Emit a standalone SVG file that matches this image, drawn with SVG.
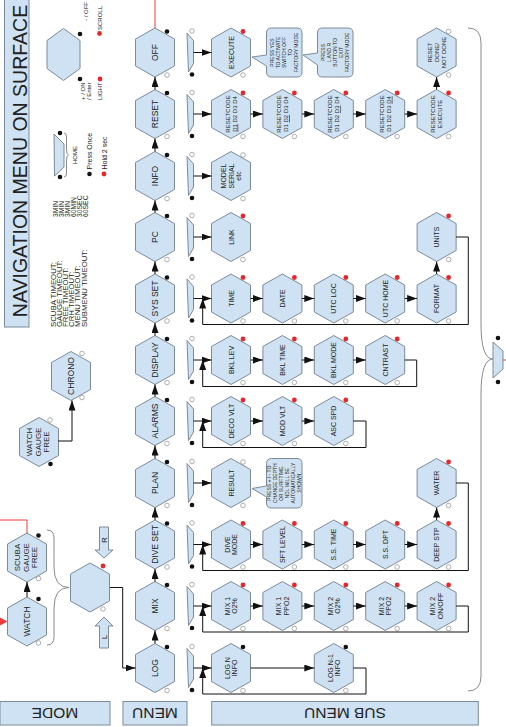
<svg xmlns="http://www.w3.org/2000/svg" xmlns:xlink="http://www.w3.org/1999/xlink" width="506" height="727" viewBox="0 0 506 727">
<style>
.hx{fill:#cfe2f3;stroke:#7d8b99;stroke-width:1}
.bx{fill:#cfe2f3;stroke:#7d8b99;stroke-width:1}
.t{font-family:"Liberation Sans",Arial,sans-serif;fill:#222}
.m{font-size:8.5px}
.s{font-size:7px}
.r{font-size:6px}
.c{font-size:5px}
.k{font-size:6px}
.dk{fill:#111}
.rd{fill:#e8262b}
.ho{fill:#fff;stroke:#9a9a9a;stroke-width:0.8}
.cn{fill:none;stroke:#111;stroke-width:1}
.red{fill:none;stroke:#ee3b3b;stroke-width:1}
.br{fill:none;stroke:#8a8a8a;stroke-width:1}
</style>
<defs>
<polygon id="hex" points="0,-24.5 19.5,-13.5 19.5,13.5 0,24.5 -19.5,13.5 -19.5,-13.5"/>
<polygon id="trap" points="0,-19.5 6.5,-12 6.5,11 1.5,19.5"/>
<marker id="ah" viewBox="0 0 10 7" refX="10" refY="3.5" markerWidth="10" markerHeight="7" markerUnits="userSpaceOnUse" orient="auto"><path d="M0,0L10,3.5L0,7z" fill="#111"/></marker>
</defs>
<rect width="506" height="727" fill="#fff"/>

<!-- title & legend -->
<g id="title">
<rect class="bx" x="4.5" y="-2" width="24.5" height="329"/>
<text class="t" font-size="19.5" text-anchor="middle" transform="translate(27,161) rotate(-90)">NAVIGATION MENU ON SURFACE</text>
</g>
<g id="timeouts" class="t" font-size="7.8">
<text transform="translate(56,327) rotate(-90)">SCUBA TIMEOUT:</text>
<text transform="translate(62,327) rotate(-90)">GAUGE TIMEOUT:</text>
<text transform="translate(68,327) rotate(-90)">FREE TIMEOUT:</text>
<text transform="translate(74,327) rotate(-90)">CRH TIMEOUT:</text>
<text transform="translate(80,327) rotate(-90)">MENU TIMEOUT:</text>
<text transform="translate(86.5,327) rotate(-90)">SUBMENU TIMEOUT:</text>
<g font-size="6.8">
<text transform="translate(57.5,217) rotate(-90)">3MIN</text>
<text transform="translate(63.5,217) rotate(-90)">3MIN</text>
<text transform="translate(69.5,217) rotate(-90)">3MIN</text>
<text transform="translate(75.5,217) rotate(-90)">60MIN</text>
<text transform="translate(81.5,217) rotate(-90)">30SEC</text>
<text transform="translate(88,217) rotate(-90)">60SEC</text>
</g>
</g>
<g id="key-buttons">
<polygon class="hx" points="63.5,28.5 80,40.5 80,68.5 63.5,80.5 47,68.5 47,40.5"/>
<circle class="dk" cx="80" cy="34" r="2.3"/>
<circle class="dk" cx="80" cy="79" r="2.3"/>
<circle class="rd" cx="99.5" cy="33.5" r="2.4"/>
<circle class="rd" cx="100" cy="79" r="2.4"/>
<text class="t k" transform="translate(87.5,21) rotate(-90)">- / OFF</text>
<text class="t k" transform="translate(85,100) rotate(-90)">+ / ON</text>
<text class="t k" transform="translate(91,100) rotate(-90)">/ Enter</text>
<text class="t k" transform="translate(102,30) rotate(-90)">SCROLL</text>
<text class="t k" transform="translate(102,100) rotate(-90)">LIGHT</text>
</g>
<g id="key-home">
<polygon class="hx" points="54,134 64,144 64,167 54.5,176"/>
<path class="br" d="M64,133 Q66.5,133 66.5,137 L66.5,149 Q66.5,155 68.5,155 Q66.5,155 66.5,161 L66.5,173 Q66.5,177 64,177"/>
<circle class="dk" cx="60" cy="133" r="2.3"/>
<circle class="dk" cx="60" cy="177" r="2.3"/>
<text class="t k" text-anchor="middle" transform="translate(77,155) rotate(-90)">HOME</text>
<circle class="dk" cx="89.5" cy="174" r="2.3"/>
<circle class="rd" cx="104" cy="174" r="2.4"/>
<text class="t" font-size="7" transform="translate(92,169.5) rotate(-90)">Press Once</text>
<text class="t" font-size="7" transform="translate(106.5,169.5) rotate(-90)">Hold 2 sec</text>
</g>

<!-- mode area -->
<g id="watch-gauge-free">
<use href="#hex" class="hx" x="39" y="442"/>
<text class="t" font-size="8" text-anchor="middle" transform="translate(39,442) rotate(-90)"><tspan x="0" y="-7.4">WATCH</tspan><tspan x="0" y="1.5">GAUGE</tspan><tspan x="0" y="10.4">FREE</tspan></text>
<circle class="ho" cx="50" cy="420" r="2.3"/>
<circle class="dk" cx="50.5" cy="464" r="2.3"/>
</g>
<g id="chrono">
<use href="#hex" class="hx" x="71" y="376"/>
<text class="t m" text-anchor="middle" transform="translate(71,376) rotate(-90)" y="3">CHRONO</text>
<circle class="ho" cx="82" cy="353.5" r="2.3"/>
<circle class="ho" cx="82" cy="397.5" r="2.3"/>
</g>
<g id="scuba">
<use href="#hex" class="hx" x="27" y="557.5"/>
<text class="t" font-size="8" text-anchor="middle" transform="translate(27,557.5) rotate(-90)"><tspan x="0" y="-7.4">SCUBA</tspan><tspan x="0" y="1.5">GAUGE</tspan><tspan x="0" y="10.4">FREE</tspan></text>
<circle class="dk" cx="38.5" cy="535.5" r="2.3"/>
<circle class="ho" cx="38.5" cy="578.5" r="2.3"/>
</g>
<g id="watch">
<use href="#hex" class="hx" x="27" y="621.5"/>
<text class="t m" text-anchor="middle" transform="translate(27,621.5) rotate(-90)" y="3">WATCH</text>
<circle class="dk" cx="38.5" cy="599" r="2.3"/>
<circle class="ho" cx="38.5" cy="643" r="2.3"/>
</g>
<g id="mode-select">
<path class="br" d="M47,530 Q54,530 54,538 L54,567 Q54,587.5 69,587.5 Q54,587.5 54,608 L54,637 Q54,645 47,645"/>
<use href="#hex" class="hx" x="90" y="587.5"/>
<circle class="rd" cx="103" cy="566" r="2.4"/>
<circle class="ho" cx="103" cy="609" r="2.3"/>
</g>
<g id="btn-r">
<polygon class="hx" points="99.5,527 108.5,527 108.5,550 113,550 104,558 95,550 99.5,550"/>
<text class="t" font-size="8" text-anchor="middle" transform="translate(104,540) rotate(-90)" y="3">R</text>
</g>
<g id="btn-l">
<polygon class="hx" points="104,617 113,626 108.5,626 108.5,648 99.5,648 99.5,626 95,626"/>
<text class="t" font-size="8" text-anchor="middle" transform="translate(104,637) rotate(-90)" y="3">L</text>
</g>

<!-- main menu -->
<g id="off"><use href="#hex" class="hx" x="155" y="52.5"/><text class="t m" text-anchor="middle" transform="translate(155,52.5) rotate(-90)" y="3">OFF</text><circle class="dk" cx="167" cy="31.5" r="2.3"/><circle class="ho" cx="167" cy="75" r="2.3"/></g>
<g id="reset"><use href="#hex" class="hx" x="155" y="114"/><text class="t m" text-anchor="middle" transform="translate(155,114) rotate(-90)" y="3">RESET</text><circle class="dk" cx="167" cy="93" r="2.3"/><circle class="ho" cx="167" cy="136.5" r="2.3"/></g>
<g id="info"><use href="#hex" class="hx" x="155" y="176"/><text class="t m" text-anchor="middle" transform="translate(155,176) rotate(-90)" y="3">INFO</text><circle class="dk" cx="167" cy="155" r="2.3"/><circle class="ho" cx="167" cy="198.5" r="2.3"/></g>
<g id="pc"><use href="#hex" class="hx" x="155" y="237"/><text class="t m" text-anchor="middle" transform="translate(155,237) rotate(-90)" y="3">PC</text><circle class="dk" cx="167" cy="216" r="2.3"/><circle class="ho" cx="167" cy="259.5" r="2.3"/></g>
<g id="sysset"><use href="#hex" class="hx" x="155" y="298.5"/><text class="t m" text-anchor="middle" transform="translate(155,298.5) rotate(-90)" y="3">SYS SET</text><circle class="dk" cx="167" cy="277.5" r="2.3"/><circle class="ho" cx="167" cy="321" r="2.3"/></g>
<g id="display"><use href="#hex" class="hx" x="155" y="360"/><text class="t m" text-anchor="middle" transform="translate(155,360) rotate(-90)" y="3">DISPLAY</text><circle class="dk" cx="167" cy="339" r="2.3"/><circle class="ho" cx="167" cy="382.5" r="2.3"/></g>
<g id="alarms"><use href="#hex" class="hx" x="155" y="421"/><text class="t m" text-anchor="middle" transform="translate(155,421) rotate(-90)" y="3">ALARMS</text><circle class="dk" cx="167" cy="400" r="2.3"/><circle class="ho" cx="167" cy="443.5" r="2.3"/></g>
<g id="plan"><use href="#hex" class="hx" x="155" y="483"/><text class="t m" text-anchor="middle" transform="translate(155,483) rotate(-90)" y="3">PLAN</text><circle class="dk" cx="167" cy="462" r="2.3"/><circle class="ho" cx="167" cy="505.5" r="2.3"/></g>
<g id="diveset"><use href="#hex" class="hx" x="155" y="544.5"/><text class="t m" text-anchor="middle" transform="translate(155,544.5) rotate(-90)" y="3">DIVE SET</text><circle class="dk" cx="167" cy="523.5" r="2.3"/><circle class="ho" cx="167" cy="567" r="2.3"/></g>
<g id="mix"><use href="#hex" class="hx" x="155" y="606"/><text class="t m" text-anchor="middle" transform="translate(155,606) rotate(-90)" y="3">MIX</text><circle class="dk" cx="167" cy="585" r="2.3"/><circle class="ho" cx="167" cy="628.5" r="2.3"/></g>
<g id="log"><use href="#hex" class="hx" x="155" y="668"/><text class="t m" text-anchor="middle" transform="translate(155,668) rotate(-90)" y="3">LOG</text><circle class="dk" cx="167" cy="647" r="2.3"/><circle class="ho" cx="167" cy="690.5" r="2.3"/></g>

<!-- trapezoid entry points -->
<g id="entries">
<use href="#trap" class="hx" x="187" y="52.5"/><circle class="ho" cx="192" cy="31" r="2.3"/><circle class="dk" cx="192" cy="74.5" r="2.3"/>
<use href="#trap" class="hx" x="187" y="114"/><circle class="ho" cx="192" cy="92.5" r="2.3"/><circle class="dk" cx="192" cy="136" r="2.3"/>
<use href="#trap" class="hx" x="187" y="176"/><circle class="ho" cx="192" cy="154.5" r="2.3"/><circle class="dk" cx="192" cy="198" r="2.3"/>
<use href="#trap" class="hx" x="187" y="237"/><circle class="ho" cx="192" cy="215.5" r="2.3"/><circle class="dk" cx="192" cy="259" r="2.3"/>
<use href="#trap" class="hx" x="187" y="298.5"/><circle class="ho" cx="192" cy="277" r="2.3"/><circle class="dk" cx="192" cy="320.5" r="2.3"/>
<use href="#trap" class="hx" x="187" y="360"/><circle class="ho" cx="192" cy="338.5" r="2.3"/><circle class="dk" cx="192" cy="382" r="2.3"/>
<use href="#trap" class="hx" x="187" y="421"/><circle class="ho" cx="192" cy="399.5" r="2.3"/><circle class="dk" cx="192" cy="443" r="2.3"/>
<use href="#trap" class="hx" x="187" y="483"/><circle class="ho" cx="192" cy="461.5" r="2.3"/><circle class="dk" cx="192" cy="505" r="2.3"/>
<use href="#trap" class="hx" x="187" y="544.5"/><circle class="ho" cx="192" cy="523" r="2.3"/><circle class="dk" cx="192" cy="566.5" r="2.3"/>
<use href="#trap" class="hx" x="187" y="606"/><circle class="ho" cx="192" cy="584.5" r="2.3"/><circle class="dk" cx="192" cy="628" r="2.3"/>
<use href="#trap" class="hx" x="187" y="668"/><circle class="ho" cx="192" cy="646.5" r="2.3"/><circle class="dk" cx="192" cy="690" r="2.3"/>
</g>

<!-- OFF row -->
<g id="execute"><use href="#hex" class="hx" x="231" y="52.5"/><text class="t s" text-anchor="middle" transform="translate(231,52.5) rotate(-90)" y="2.5">EXECUTE</text><circle class="rd" cx="243" cy="31.5" r="2.4"/><circle class="ho" cx="243" cy="75" r="2.3"/></g>
<g id="note-switchoff"><path class="bx" d="M271.5,28 H297 Q302,28 302,33 V72 Q302,77 297,77 H271.5 Q266.5,77 266.5,72 V66 L252,57 L266.5,55 V33 Q266.5,28 271.5,28 Z"/>
<text class="t c" text-anchor="middle" transform="translate(284,52.5) rotate(-90)"><tspan x="0" y="-10.2">PRESS YES</tspan><tspan x="0" y="-4.2">TO ACTIVATE</tspan><tspan x="0" y="1.8">SWITCH OFF</tspan><tspan x="0" y="7.8">TO</tspan><tspan x="0" y="13.8">FACTORY MODE</tspan></text></g>
<g id="note-exit"><path class="bx" d="M322.5,28 H348 Q353,28 353,33 V72 Q353,77 348,77 H322.5 Q317.5,77 317.5,72 V65 L303,55 L317.5,53 V33 Q317.5,28 322.5,28 Z"/>
<text class="t c" text-anchor="middle" transform="translate(335,52.5) rotate(-90)"><tspan x="0" y="-10.2">PRESS</tspan><tspan x="0" y="-4.2">L AND R</tspan><tspan x="0" y="1.8">BUTTON TO</tspan><tspan x="0" y="7.8">EXIT</tspan><tspan x="0" y="13.8">FACTORY MODE</tspan></text></g>
<g id="reset-done"><use href="#hex" class="hx" x="436.6" y="52.5"/><text class="t r" text-anchor="middle" transform="translate(436.6,52.5) rotate(-90)"><tspan x="0" y="-4.8">RESET</tspan><tspan x="0" y="2.2">DONE/</tspan><tspan x="0" y="9.2">NOT DONE</tspan></text><circle class="ho" cx="448.6" cy="31.5" r="2.3"/><circle class="ho" cx="448.6" cy="75" r="2.3"/></g>

<!-- RESET row -->
<g id="rc1"><use href="#hex" class="hx" x="231" y="114"/><text class="t r" text-anchor="middle" transform="translate(231,114) rotate(-90)"><tspan x="0" y="-1.4">RESETCODE</tspan><tspan x="0" y="5.6"><tspan text-decoration="underline">D1</tspan> D2 D3 D4</tspan></text><circle class="rd" cx="243" cy="93" r="2.4"/><circle class="ho" cx="243" cy="136.5" r="2.3"/></g>
<g id="rc2"><use href="#hex" class="hx" x="282.4" y="114"/><text class="t r" text-anchor="middle" transform="translate(282.4,114) rotate(-90)"><tspan x="0" y="-1.4">RESETCODE</tspan><tspan x="0" y="5.6">D1 <tspan text-decoration="underline">D2</tspan> D3 D4</tspan></text><circle class="rd" cx="294.4" cy="93" r="2.4"/><circle class="ho" cx="294.4" cy="136.5" r="2.3"/></g>
<g id="rc3"><use href="#hex" class="hx" x="333.8" y="114"/><text class="t r" text-anchor="middle" transform="translate(333.8,114) rotate(-90)"><tspan x="0" y="-1.4">RESETCODE</tspan><tspan x="0" y="5.6">D1 D2 <tspan text-decoration="underline">D3</tspan> D4</tspan></text><circle class="rd" cx="345.8" cy="93" r="2.4"/><circle class="ho" cx="345.8" cy="136.5" r="2.3"/></g>
<g id="rc4"><use href="#hex" class="hx" x="385.2" y="114"/><text class="t r" text-anchor="middle" transform="translate(385.2,114) rotate(-90)"><tspan x="0" y="-1.4">RESETCODE</tspan><tspan x="0" y="5.6">D1 D2 D3 <tspan text-decoration="underline">D4</tspan></tspan></text><circle class="rd" cx="397.2" cy="93" r="2.4"/><circle class="ho" cx="397.2" cy="136.5" r="2.3"/></g>
<g id="rc-exec"><use href="#hex" class="hx" x="436.6" y="114"/><text class="t r" text-anchor="middle" transform="translate(436.6,114) rotate(-90)"><tspan x="0" y="-1.4">RESETCODE</tspan><tspan x="0" y="5.6">EXECUTE</tspan></text><circle class="rd" cx="448.6" cy="93" r="2.4"/><circle class="ho" cx="448.6" cy="136.5" r="2.3"/></g>

<!-- INFO / PC rows -->
<g id="model"><use href="#hex" class="hx" x="231" y="176"/><text class="t s" text-anchor="middle" transform="translate(231,176) rotate(-90)"><tspan x="0" y="-5">MODEL</tspan><tspan x="0" y="2.5">SERIAL</tspan><tspan x="0" y="10">etc</tspan></text><circle class="ho" cx="243" cy="155" r="2.3"/><circle class="ho" cx="243" cy="198.5" r="2.3"/></g>
<g id="link"><use href="#hex" class="hx" x="231" y="237"/><text class="t s" text-anchor="middle" transform="translate(231,237) rotate(-90)" y="2.5">LINK</text><circle class="rd" cx="243" cy="216" r="2.4"/><circle class="ho" cx="243" cy="259.5" r="2.3"/></g>
<g id="units"><use href="#hex" class="hx" x="436.6" y="237"/><text class="t s" text-anchor="middle" transform="translate(436.6,237) rotate(-90)" y="2.5">UNITS</text><circle class="rd" cx="448.6" cy="216" r="2.4"/><circle class="ho" cx="448.6" cy="259.5" r="2.3"/></g>

<!-- SYS SET row -->
<g id="time"><use href="#hex" class="hx" x="231" y="298.5"/><text class="t s" text-anchor="middle" transform="translate(231,298.5) rotate(-90)" y="2.5">TIME</text><circle class="rd" cx="243" cy="277.5" r="2.4"/><circle class="ho" cx="243" cy="321" r="2.3"/></g>
<g id="date"><use href="#hex" class="hx" x="282.4" y="298.5"/><text class="t s" text-anchor="middle" transform="translate(282.4,298.5) rotate(-90)" y="2.5">DATE</text><circle class="rd" cx="294.4" cy="277.5" r="2.4"/><circle class="ho" cx="294.4" cy="321" r="2.3"/></g>
<g id="utcloc"><use href="#hex" class="hx" x="333.8" y="298.5"/><text class="t s" text-anchor="middle" transform="translate(333.8,298.5) rotate(-90)" y="2.5">UTC LOC</text><circle class="rd" cx="345.8" cy="277.5" r="2.4"/><circle class="ho" cx="345.8" cy="321" r="2.3"/></g>
<g id="utchome"><use href="#hex" class="hx" x="385.2" y="298.5"/><text class="t s" text-anchor="middle" transform="translate(385.2,298.5) rotate(-90)" y="2.5">UTC HOME</text><circle class="rd" cx="397.2" cy="277.5" r="2.4"/><circle class="ho" cx="397.2" cy="321" r="2.3"/></g>
<g id="format"><use href="#hex" class="hx" x="436.6" y="298.5"/><text class="t s" text-anchor="middle" transform="translate(436.6,298.5) rotate(-90)" y="2.5">FORMAT</text><circle class="rd" cx="448.6" cy="277.5" r="2.4"/><circle class="ho" cx="448.6" cy="321" r="2.3"/></g>

<!-- DISPLAY row -->
<g id="bkllev"><use href="#hex" class="hx" x="231" y="360"/><text class="t s" text-anchor="middle" transform="translate(231,360) rotate(-90)" y="2.5">BKL LEV</text><circle class="rd" cx="243" cy="339" r="2.4"/><circle class="ho" cx="243" cy="382.5" r="2.3"/></g>
<g id="bkltime"><use href="#hex" class="hx" x="282.4" y="360"/><text class="t s" text-anchor="middle" transform="translate(282.4,360) rotate(-90)" y="2.5">BKL TIME</text><circle class="rd" cx="294.4" cy="339" r="2.4"/><circle class="ho" cx="294.4" cy="382.5" r="2.3"/></g>
<g id="bklmode"><use href="#hex" class="hx" x="333.8" y="360"/><text class="t s" text-anchor="middle" transform="translate(333.8,360) rotate(-90)" y="2.5">BKL MODE</text><circle class="rd" cx="345.8" cy="339" r="2.4"/><circle class="ho" cx="345.8" cy="382.5" r="2.3"/></g>
<g id="cntrast"><use href="#hex" class="hx" x="385.2" y="360"/><text class="t s" text-anchor="middle" transform="translate(385.2,360) rotate(-90)" y="2.5">CNTRAST</text><circle class="rd" cx="397.2" cy="339" r="2.4"/><circle class="ho" cx="397.2" cy="382.5" r="2.3"/></g>

<!-- ALARMS row -->
<g id="decovlt"><use href="#hex" class="hx" x="231" y="421"/><text class="t s" text-anchor="middle" transform="translate(231,421) rotate(-90)" y="2.5">DECO VLT</text><circle class="rd" cx="243" cy="400" r="2.4"/><circle class="ho" cx="243" cy="443.5" r="2.3"/></g>
<g id="modvlt"><use href="#hex" class="hx" x="282.4" y="421"/><text class="t s" text-anchor="middle" transform="translate(282.4,421) rotate(-90)" y="2.5">MOD VLT</text><circle class="rd" cx="294.4" cy="400" r="2.4"/><circle class="ho" cx="294.4" cy="443.5" r="2.3"/></g>
<g id="ascspd"><use href="#hex" class="hx" x="333.8" y="421"/><text class="t s" text-anchor="middle" transform="translate(333.8,421) rotate(-90)" y="2.5">ASC SPD</text><circle class="rd" cx="345.8" cy="400" r="2.4"/><circle class="ho" cx="345.8" cy="443.5" r="2.3"/></g>

<!-- PLAN row -->
<g id="result"><use href="#hex" class="hx" x="231" y="483"/><text class="t s" text-anchor="middle" transform="translate(231,483) rotate(-90)" y="2.5">RESULT</text><circle class="ho" cx="243" cy="462" r="2.3"/><circle class="ho" cx="243" cy="505.5" r="2.3"/></g>
<g id="note-plan"><path class="bx" d="M271.5,458.5 H297 Q302,458.5 302,463.5 V503 Q302,508 297,508 H271.5 Q266.5,508 266.5,503 V497 L252,488.5 L266.5,486 V463.5 Q266.5,458.5 271.5,458.5 Z"/>
<text class="t c" text-anchor="middle" transform="translate(284,483.2) rotate(-90)"><tspan x="0" y="-13.2">PRESS + / - TO</tspan><tspan x="0" y="-7.2">CHANGE DEPTH</tspan><tspan x="0" y="-1.2">OR SURFTIME.</tspan><tspan x="0" y="4.8">NDL WILL BE</tspan><tspan x="0" y="10.8">AUTOMATICALLY</tspan><tspan x="0" y="16.8">SHOWN</tspan></text></g>
<g id="water"><use href="#hex" class="hx" x="436.6" y="483"/><text class="t s" text-anchor="middle" transform="translate(436.6,483) rotate(-90)" y="2.5">WATER</text><circle class="rd" cx="448.6" cy="462" r="2.4"/><circle class="ho" cx="448.6" cy="505.5" r="2.3"/></g>

<!-- DIVE SET row -->
<g id="divemode"><use href="#hex" class="hx" x="231" y="544.5"/><text class="t s" text-anchor="middle" transform="translate(231,544.5) rotate(-90)"><tspan x="0" y="-1.25">DIVE</tspan><tspan x="0" y="6.25">MODE</tspan></text><circle class="rd" cx="243" cy="523.5" r="2.4"/><circle class="ho" cx="243" cy="567" r="2.3"/></g>
<g id="sftlevel"><use href="#hex" class="hx" x="282.4" y="544.5"/><text class="t s" text-anchor="middle" transform="translate(282.4,544.5) rotate(-90)" y="2.5">SFT LEVEL</text><circle class="rd" cx="294.4" cy="523.5" r="2.4"/><circle class="ho" cx="294.4" cy="567" r="2.3"/></g>
<g id="sstime"><use href="#hex" class="hx" x="333.8" y="544.5"/><text class="t s" text-anchor="middle" transform="translate(333.8,544.5) rotate(-90)" y="2.5">S.S. TIME</text><circle class="rd" cx="345.8" cy="523.5" r="2.4"/><circle class="ho" cx="345.8" cy="567" r="2.3"/></g>
<g id="ssdpt"><use href="#hex" class="hx" x="385.2" y="544.5"/><text class="t s" text-anchor="middle" transform="translate(385.2,544.5) rotate(-90)" y="2.5">S.S. DPT</text><circle class="rd" cx="397.2" cy="523.5" r="2.4"/><circle class="ho" cx="397.2" cy="567" r="2.3"/></g>
<g id="deepstp"><use href="#hex" class="hx" x="436.6" y="544.5"/><text class="t s" text-anchor="middle" transform="translate(436.6,544.5) rotate(-90)" y="2.5">DEEP STP</text><circle class="rd" cx="448.6" cy="523.5" r="2.4"/><circle class="ho" cx="448.6" cy="567" r="2.3"/></g>

<!-- MIX row -->
<g id="mix1o2"><use href="#hex" class="hx" x="231" y="606"/><text class="t s" text-anchor="middle" transform="translate(231,606) rotate(-90)"><tspan x="0" y="-1.25">MIX 1</tspan><tspan x="0" y="6.25">O2%</tspan></text><circle class="rd" cx="243" cy="585" r="2.4"/><circle class="ho" cx="243" cy="628.5" r="2.3"/></g>
<g id="mix1ppo2"><use href="#hex" class="hx" x="282.4" y="606"/><text class="t s" text-anchor="middle" transform="translate(282.4,606) rotate(-90)"><tspan x="0" y="-1.25">MIX 1</tspan><tspan x="0" y="6.25">PPO2</tspan></text><circle class="rd" cx="294.4" cy="585" r="2.4"/><circle class="ho" cx="294.4" cy="628.5" r="2.3"/></g>
<g id="mix2o2"><use href="#hex" class="hx" x="333.8" y="606"/><text class="t s" text-anchor="middle" transform="translate(333.8,606) rotate(-90)"><tspan x="0" y="-1.25">MIX 2</tspan><tspan x="0" y="6.25">O2%</tspan></text><circle class="rd" cx="345.8" cy="585" r="2.4"/><circle class="ho" cx="345.8" cy="628.5" r="2.3"/></g>
<g id="mix2ppo2"><use href="#hex" class="hx" x="385.2" y="606"/><text class="t s" text-anchor="middle" transform="translate(385.2,606) rotate(-90)"><tspan x="0" y="-1.25">MIX 2</tspan><tspan x="0" y="6.25">PPO2</tspan></text><circle class="rd" cx="397.2" cy="585" r="2.4"/><circle class="ho" cx="397.2" cy="628.5" r="2.3"/></g>
<g id="mix2onoff"><use href="#hex" class="hx" x="436.6" y="606"/><text class="t s" text-anchor="middle" transform="translate(436.6,606) rotate(-90)"><tspan x="0" y="-1.25">MIX 2</tspan><tspan x="0" y="6.25">ON/OFF</tspan></text><circle class="rd" cx="448.6" cy="585" r="2.4"/><circle class="ho" cx="448.6" cy="628.5" r="2.3"/></g>

<!-- LOG row -->
<g id="logn"><use href="#hex" class="hx" x="231" y="668"/><text class="t s" text-anchor="middle" transform="translate(231,668) rotate(-90)"><tspan x="0" y="-1.25">LOG N</tspan><tspan x="0" y="6.25">INFO</tspan></text><circle class="dk" cx="243" cy="647" r="2.3"/><circle class="ho" cx="243" cy="690.5" r="2.3"/></g>
<g id="logn1"><use href="#hex" class="hx" x="333.8" y="668"/><text class="t s" text-anchor="middle" transform="translate(333.8,668) rotate(-90)"><tspan x="0" y="-1.25">LOG N-1</tspan><tspan x="0" y="6.25">INFO</tspan></text><circle class="dk" cx="345.8" cy="647" r="2.3"/><circle class="ho" cx="345.8" cy="690.5" r="2.3"/></g>

<!-- exit brace -->
<g id="exit">
<path class="br" d="M468,28 Q481,28 481,43 L481,324 Q481,359 493,359 Q481,359 481,394 L481,676 Q481,691 468,691"/>
<polygon class="hx" points="493,342 503,351 503,369 493,378"/>
<circle class="dk" cx="498" cy="338" r="2.3"/>
<circle class="dk" cx="498" cy="382" r="2.3"/>
</g>

<!-- section labels -->
<g id="lbl-mode"><rect class="bx" x="0" y="701.5" width="110" height="23.5"/><text class="t" font-size="15.5" text-anchor="middle" transform="translate(55,708.3) rotate(180)">MODE</text></g>
<g id="lbl-menu"><rect class="bx" x="123" y="701.5" width="64" height="23.5"/><text class="t" font-size="15.5" text-anchor="middle" transform="translate(155,708.3) rotate(180)">MENU</text></g>
<g id="lbl-sub"><rect class="bx" x="211.7" y="701.5" width="266.6" height="23.5"/><text class="t" font-size="15.5" text-anchor="middle" transform="translate(345,708.3) rotate(180)">SUB MENU</text></g>

<!-- connectors -->
<g id="connectors">
<g class="cn" marker-end="url(#ah)">
<line x1="155" y1="89.5" x2="155" y2="77"/>
<line x1="155" y1="151.5" x2="155" y2="138.5"/>
<line x1="155" y1="212.5" x2="155" y2="200.5"/>
<line x1="155" y1="274" x2="155" y2="261.5"/>
<line x1="155" y1="335.5" x2="155" y2="323"/>
<line x1="155" y1="396.5" x2="155" y2="384.5"/>
<line x1="155" y1="458.5" x2="155" y2="445.5"/>
<line x1="155" y1="520" x2="155" y2="507.5"/>
<line x1="155" y1="581.5" x2="155" y2="569"/>
<line x1="155" y1="643.5" x2="155" y2="630.5"/>
<line x1="27" y1="597" x2="27" y2="582"/>
<line x1="193.5" y1="52.5" x2="211.5" y2="52.5"/>
<line x1="193.5" y1="114" x2="211.5" y2="114"/>
<line x1="193.5" y1="176" x2="211.5" y2="176"/>
<line x1="193.5" y1="237" x2="211.5" y2="237"/>
<line x1="193.5" y1="298.5" x2="211.5" y2="298.5"/>
<line x1="193.5" y1="360" x2="211.5" y2="360"/>
<line x1="193.5" y1="421" x2="211.5" y2="421"/>
<line x1="193.5" y1="483" x2="211.5" y2="483"/>
<line x1="193.5" y1="544.5" x2="211.5" y2="544.5"/>
<line x1="193.5" y1="606" x2="211.5" y2="606"/>
<line x1="193.5" y1="668" x2="211.5" y2="668"/>
<line x1="250.5" y1="114" x2="262.9" y2="114"/>
<line x1="301.9" y1="114" x2="314.3" y2="114"/>
<line x1="353.3" y1="114" x2="365.7" y2="114"/>
<line x1="404.7" y1="114" x2="417.1" y2="114"/>
<line x1="436.6" y1="89.5" x2="436.6" y2="77"/>
<line x1="250.5" y1="298.5" x2="262.9" y2="298.5"/>
<line x1="301.9" y1="298.5" x2="314.3" y2="298.5"/>
<line x1="353.3" y1="298.5" x2="365.7" y2="298.5"/>
<line x1="404.7" y1="298.5" x2="417.1" y2="298.5"/>
<line x1="436.6" y1="274" x2="436.6" y2="261.5"/>
<line x1="250.5" y1="360" x2="262.9" y2="360"/>
<line x1="301.9" y1="360" x2="314.3" y2="360"/>
<line x1="353.3" y1="360" x2="365.7" y2="360"/>
<line x1="250.5" y1="421" x2="262.9" y2="421"/>
<line x1="301.9" y1="421" x2="314.3" y2="421"/>
<line x1="250.5" y1="544.5" x2="262.9" y2="544.5"/>
<line x1="301.9" y1="544.5" x2="314.3" y2="544.5"/>
<line x1="353.3" y1="544.5" x2="365.7" y2="544.5"/>
<line x1="404.7" y1="544.5" x2="417.1" y2="544.5"/>
<line x1="436.6" y1="520" x2="436.6" y2="507.5"/>
<line x1="250.5" y1="606" x2="262.9" y2="606"/>
<line x1="301.9" y1="606" x2="314.3" y2="606"/>
<line x1="353.3" y1="606" x2="365.7" y2="606"/>
<line x1="404.7" y1="606" x2="417.1" y2="606"/>
<line x1="250.5" y1="668" x2="314.3" y2="668"/>
<path d="M456.1,237 H468.3 V324.5 H202.7 V298.5"/>
<path d="M404.7,360 H416.7 V386.5 H202.7 V360"/>
<path d="M353.3,421 H366 V447.5 H202.7 V421"/>
<path d="M456.1,483 H468.3 V570.5 H202.7 V544.5"/>
<path d="M456.1,606 H468.3 V632 H202.7 V606"/>
<path d="M353.3,668 H366 V694 H202.7 V668"/>
<path d="M110,587.5 H122.7 V668 H135.5"/>
<path d="M58,441 H72 V400.5"/>
</g>
<path class="red" d="M155,0 V28"/>
<path class="red" d="M27,533 V520 H0"/>
<path class="red" d="M503,360 H506"/>
<polygon points="0,617.5 7.5,621.5 0,625.5" fill="#ee3b3b"/>
</g>
</svg>
